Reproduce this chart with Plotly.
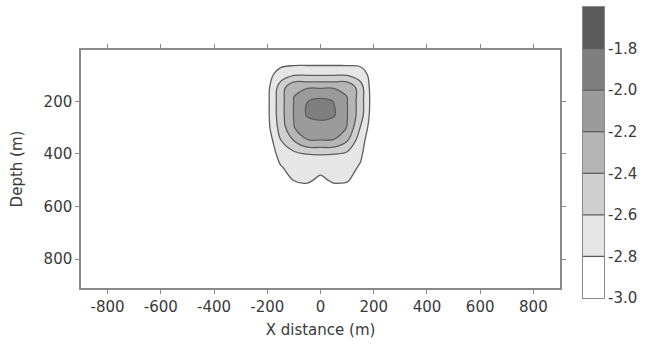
import plotly.graph_objects as go

# ---- data ----
x_distance = [-900, -250, -200, -150, -100, -50, 0, 50, 100, 150, 200, 250, 900]
depth = [0, 50, 100, 150, 200, 250, 300, 350, 400, 450, 500, 550, 600, 910]

# value grid: one row per depth, one column per x distance
z_values = [
    [-2.96, -2.96, -2.96, -2.96, -2.96, -2.96, -2.96, -2.96, -2.96, -2.96, -2.96, -2.96, -2.96],
    [-2.96, -2.96, -2.96, -2.88, -2.874, -2.874, -2.874, -2.874, -2.874, -2.86, -2.96, -2.96, -2.96],
    [-2.96, -2.96, -2.88, -2.70, -2.615, -2.61, -2.61, -2.61, -2.615, -2.70, -2.89, -2.96, -2.96],
    [-2.96, -2.96, -2.86, -2.50, -2.21, -2.205, -2.205, -2.205, -2.21, -2.50, -2.95, -2.96, -2.96],
    [-2.96, -2.96, -2.855, -2.48, -2.195, -2.003, -1.94, -2.005, -2.195, -2.50, -2.93, -2.96, -2.96],
    [-2.96, -2.96, -2.855, -2.48, -2.19, -1.975, -1.96, -1.975, -2.19, -2.50, -2.95, -2.96, -2.96],
    [-2.96, -2.96, -2.87, -2.52, -2.205, -2.105, -2.05, -2.10, -2.205, -2.61, -2.96, -2.96, -2.96],
    [-2.96, -2.96, -2.93, -2.61, -2.40, -2.21, -2.21, -2.211, -2.39, -2.72, -2.96, -2.96, -2.96],
    [-2.96, -2.96, -2.96, -2.72, -2.65, -2.595, -2.59, -2.595, -2.64, -2.77, -2.96, -2.96, -2.96],
    [-2.96, -2.96, -2.96, -2.813, -2.73, -2.72, -2.72, -2.72, -2.74, -2.817, -2.96, -2.96, -2.96],
    [-2.96, -2.96, -2.96, -2.90, -2.795, -2.76, -2.85, -2.76, -2.78, -2.90, -2.96, -2.96, -2.96],
    [-2.96, -2.96, -2.96, -2.95, -2.90, -2.94, -2.94, -2.94, -2.92, -2.95, -2.96, -2.96, -2.96],
    [-2.96, -2.96, -2.96, -2.96, -2.96, -2.96, -2.96, -2.96, -2.96, -2.96, -2.96, -2.96, -2.96],
    [-2.96, -2.96, -2.96, -2.96, -2.96, -2.96, -2.96, -2.96, -2.96, -2.96, -2.96, -2.96, -2.96],
]

# contour line levels
contour_levels = [-2.8, -2.6, -2.4, -2.2, -2.0, -1.8]
level_step = 0.2

# colour scale bar: band edges and band mid values
band_edges = [-3.0, -2.8, -2.6, -2.4, -2.2, -2.0, -1.8, -1.6]
band_mids = [-2.9, -2.7, -2.5, -2.3, -2.1, -1.9, -1.7]
# band colours from lowest band (-3.0..-2.8) to highest (-1.8..-1.6)
band_colors = ["#ffffff", "#e6e6e6", "#cfcfcf", "#b5b5b5", "#9b9b9b", "#7f7f7f", "#5c5c5c"]

cbar_ticks = [-3.0, -2.8, -2.6, -2.4, -2.2, -2.0, -1.8]
cbar_labels = ["-3.0", "-2.8", "-2.6", "-2.4", "-2.2", "-2.0", "-1.8"]
x_ticks = [-800, -600, -400, -200, 0, 200, 400, 600, 800]
x_labels = ["-800", "-600", "-400", "-200", "0", "200", "400", "600", "800"]
y_ticks = [200, 400, 600, 800]
y_labels = ["200", "400", "600", "800"]

colorscale = [[i / (len(band_colors) - 1), c] for i, c in enumerate(band_colors)]

FONT = "DejaVu Sans"
AXIS_COL = "#8a8a8a"
TXT_COL = "#3a3a3a"
LINE_COL = "#5e5e5e"

W, H = 649, 349
ML, MR, MT, MB = 81, 45, 7, 51
PW, PH = W - ML - MR, H - MT - MB
# main plot box in pixels
PX0, PX1, PY0, PY1 = 81, 560, 50, 288
# colour bar box in pixels
CX0, CX1 = 583, 604

main_xdom = [(PX0 - ML) / PW, (PX1 - ML) / PW]
main_ydom = [(H - MB - PY1) / PH, (H - MB - PY0) / PH]
cb_xdom = [(CX0 - ML) / PW, (CX1 - ML) / PW]

fig = go.Figure()

fig.add_trace(
    go.Contour(
        x=x_distance,
        y=depth,
        z=z_values,
        autocontour=False,
        contours=dict(start=contour_levels[0], end=contour_levels[-1], size=level_step, coloring="fill"),
        colorscale=colorscale,
        line=dict(color=LINE_COL, width=1.3, smoothing=1.0),
        showscale=False,
        hoverinfo="skip",
        xaxis="x",
        yaxis="y",
    )
)

# colour scale bar drawn on its own axes
fig.add_trace(
    go.Heatmap(
        x=[0, 1],
        y=band_edges,
        z=[[m] for m in band_mids],
        zmin=band_mids[0],
        zmax=band_mids[-1],
        colorscale=colorscale,
        showscale=False,
        hoverinfo="skip",
        xaxis="x2",
        yaxis="y2",
    )
)
lx, ly = [], []
for lv in contour_levels:
    lx += [0, 1, None]
    ly += [lv, lv, None]
fig.add_trace(
    go.Scatter(
        x=lx, y=ly, mode="lines",
        line=dict(color=LINE_COL, width=1.3),
        hoverinfo="skip", showlegend=False,
        xaxis="x2", yaxis="y2",
    )
)

axis_common = dict(
    showgrid=False,
    zeroline=False,
    showline=True,
    linecolor=AXIS_COL,
    linewidth=1.5,
    mirror="ticks",
    ticks="outside",
    ticklen=4,
    tickcolor=AXIS_COL,
    tickfont=dict(family=FONT, size=15, color=TXT_COL),
)

fig.update_layout(
    width=W,
    height=H,
    autosize=False,
    margin=dict(l=ML, r=MR, t=MT, b=MB),
    paper_bgcolor="white",
    plot_bgcolor="white",
    showlegend=False,
    hovermode=False,
    font=dict(family=FONT, color=TXT_COL, size=15),
    xaxis=dict(
        domain=main_xdom,
        anchor="y",
        range=[-900, 900],
        tickvals=x_ticks,
        ticktext=x_labels,
        title=dict(text="X distance (m)", font=dict(family=FONT, size=15, color=TXT_COL), standoff=10),
        **axis_common,
    ),
    yaxis=dict(
        domain=main_ydom,
        anchor="x",
        range=[910, 5],
        tickvals=y_ticks,
        ticktext=y_labels,
        title=dict(text="Depth (m)", font=dict(family=FONT, size=15, color=TXT_COL), standoff=17),
        **axis_common,
    ),
    xaxis2=dict(
        domain=cb_xdom,
        anchor="y2",
        range=[0, 1],
        showticklabels=False,
        ticks="",
        showgrid=False,
        zeroline=False,
        showline=True,
        mirror=True,
        linecolor=AXIS_COL,
        linewidth=1,
        fixedrange=True,
    ),
    yaxis2=dict(
        domain=[0, 1],
        anchor="x2",
        side="right",
        range=[band_edges[0], band_edges[-1]],
        tickvals=cbar_ticks,
        ticktext=cbar_labels,
        ticks="",
        showgrid=False,
        zeroline=False,
        showline=True,
        mirror=True,
        linecolor=AXIS_COL,
        linewidth=1,
        tickfont=dict(family=FONT, size=15, color=TXT_COL),
        fixedrange=True,
    ),
)

fig.write_html("out.html")
